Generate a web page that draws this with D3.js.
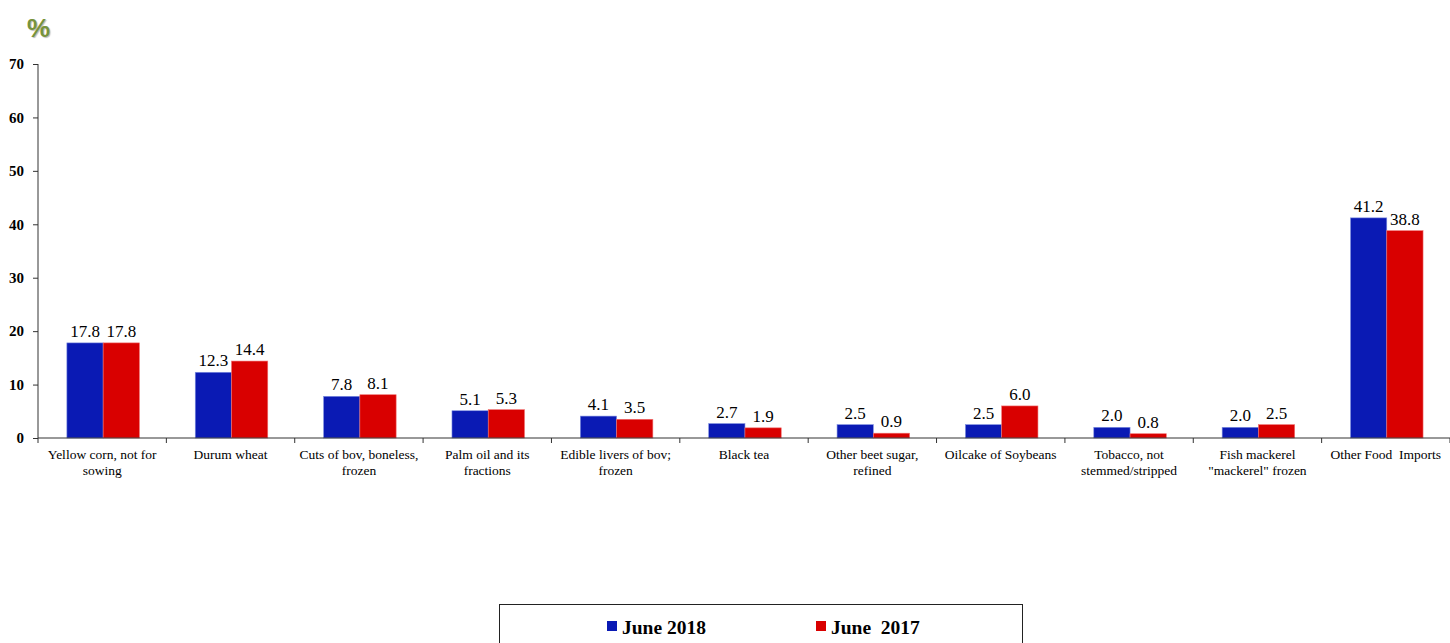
<!DOCTYPE html>
<html lang="en">
<head>
<meta charset="UTF-8">
<title>Food imports share</title>
<script src="https://d3js.org/d3.v7.min.js"></script>
<style>
  body { margin: 0; background: #fff; }
  svg { display: block; }
  text { white-space: pre; }
</style>
</head>
<body>
<div id="chart"></div>
<script>
  // data
  const categories = [
    ["Yellow corn, not for", "sowing"],
    ["Durum wheat"],
    ["Cuts of bov, boneless,", "frozen"],
    ["Palm oil and its", "fractions"],
    ["Edible livers of bov;", "frozen"],
    ["Black tea"],
    ["Other beet sugar,", "refined"],
    ["Oilcake of Soybeans"],
    ["Tobacco, not", "stemmed/stripped"],
    ["Fish mackerel", "\"mackerel\" frozen"],
    ["Other Food  Imports"]
  ];
  const june2018 = [17.8, 12.3, 7.8, 5.1, 4.1, 2.7, 2.5, 2.5, 2.0, 2.0, 41.2];
  const june2017 = [17.8, 14.4, 8.1, 5.3, 3.5, 1.9, 0.9, 6.0, 0.8, 2.5, 38.8];
  const seriesNames = ["June 2018", "June  2017"];
  const seriesColors = ["#0a1ab4", "#d90000"];
  const yTicks = [0, 10, 20, 30, 40, 50, 60, 70];

  const serif = "'Liberation Serif', 'Times New Roman', serif";
  const width = 1450, height = 643;
  const svg = d3.select("#chart").append("svg")
    .attr("width", width)
    .attr("height", height);

  const x0 = d3.scaleBand()
    .domain(d3.range(categories.length))
    .range([38, 1450])
    .padding(0);

  const x1 = d3.scaleBand()
    .domain([0, 1])
    .range([x0.bandwidth() * 0.225, x0.bandwidth() * 0.79])
    .padding(0);

  const y = d3.scaleLinear().domain([0, 70]).range([438, 64]);

  // % title
  svg.append("text")
    .attr("x", 27).attr("y", 37)
    .attr("font-family", "Arial, 'Liberation Sans', sans-serif")
    .attr("font-weight", "bold")
    .attr("font-size", 26)
    .attr("fill", "#77933c")
    .style("text-shadow", "1px 1px 1px #bbb")
    .text("%");

  // y axis
  const yAxis = svg.append("g")
    .attr("transform", "translate(38,0)")
    .call(d3.axisLeft(y).tickValues(yTicks).tickSize(5).tickPadding(9).tickFormat(d3.format("d")));
  yAxis.select(".domain").attr("stroke", "#333").attr("d", "M0," + y(70) + "V" + y(0));
  yAxis.selectAll(".tick line").attr("stroke", "#333");
  yAxis.selectAll("text")
    .attr("font-family", serif)
    .attr("font-weight", "bold")
    .attr("font-size", 15)
    .attr("fill", "#000");

  // bars
  const series = [june2018, june2017];
  const groups = svg.append("g").selectAll("g")
    .data(categories)
    .join("g")
    .attr("transform", (d, i) => "translate(" + x0(i) + ",0)");

  groups.selectAll("rect")
    .data((d, i) => series.map((s, k) => ({ k: k, v: s[i] })))
    .join("rect")
    .attr("x", d => x1(d.k))
    .attr("y", d => y(d.v))
    .attr("width", x1.bandwidth())
    .attr("height", d => y(0) - y(d.v))
    .attr("fill", d => seriesColors[d.k])
    .attr("stroke", d => d.k === 0 ? "#7f8fe0" : "#f07070")
    .attr("stroke-width", 0.6);

  groups.selectAll("text.val")
    .data((d, i) => series.map((s, k) => ({ k: k, v: s[i] })))
    .join("text")
    .attr("class", "val")
    .attr("x", d => x1(d.k) + x1.bandwidth() / 2)
    .attr("y", d => y(d.v) - 6)
    .attr("text-anchor", "middle")
    .attr("font-family", serif)
    .attr("font-size", 17)
    .attr("fill", "#000")
    .text(d => d3.format(".1f")(d.v));

  // x axis line and ticks
  const xAxis = svg.append("g");
  xAxis.append("line")
    .attr("x1", 38).attr("x2", 1450)
    .attr("y1", y(0)).attr("y2", y(0))
    .attr("stroke", "#333");
  xAxis.selectAll("line.tick")
    .data(d3.range(categories.length + 1))
    .join("line")
    .attr("class", "tick")
    .attr("x1", i => i < categories.length ? x0(i) : 1450)
    .attr("x2", i => i < categories.length ? x0(i) : 1450)
    .attr("y1", y(0)).attr("y2", y(0) + 5)
    .attr("stroke", "#333");

  // category labels
  const labels = svg.append("g").selectAll("text")
    .data(categories)
    .join("text")
    .attr("x", (d, i) => x0(i) + x0.bandwidth() / 2)
    .attr("y", 459)
    .attr("text-anchor", "middle")
    .attr("font-family", serif)
    .attr("font-size", 13.5)
    .attr("fill", "#000");
  labels.selectAll("tspan")
    .data(d => d)
    .join("tspan")
    .attr("x", function () { return this.parentNode.getAttribute("x"); })
    .attr("dy", (d, j) => j === 0 ? 0 : 16)
    .text(d => d);

  // legend
  const legend = svg.append("g");
  legend.append("rect")
    .attr("x", 499.5).attr("y", 604.5)
    .attr("width", 523).attr("height", 60)
    .attr("fill", "none")
    .attr("stroke", "#222");
  const legendX = [607, 816];
  seriesNames.forEach((name, k) => {
    legend.append("rect")
      .attr("x", legendX[k]).attr("y", 621)
      .attr("width", 10).attr("height", 10)
      .attr("fill", seriesColors[k]);
    legend.append("text")
      .attr("x", legendX[k] + 15).attr("y", 634)
      .attr("font-family", serif)
      .attr("font-weight", "bold")
      .attr("font-size", 19.5)
      .attr("fill", "#000")
      .text(name);
  });
</script>
</body>
</html>
